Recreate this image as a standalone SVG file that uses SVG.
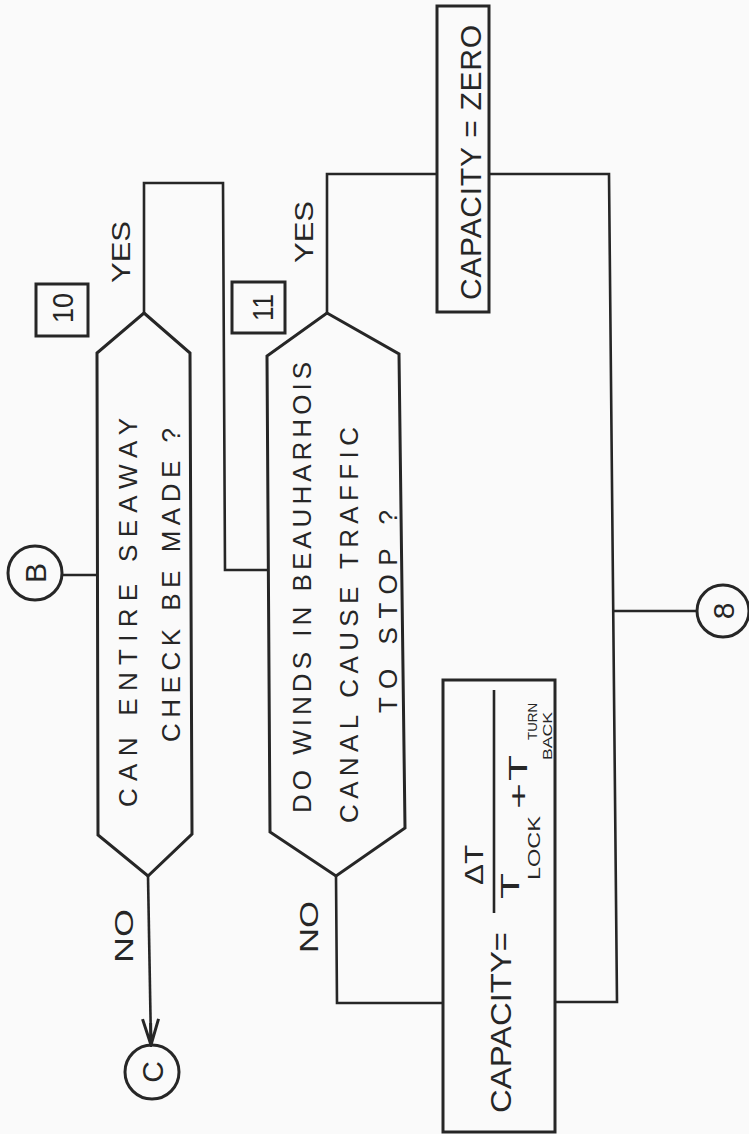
<svg xmlns="http://www.w3.org/2000/svg" width="749" height="1134" viewBox="0 0 749 1134">
<style>
.bg{fill:#fafafa}
.shape{fill:none;stroke:#262626;stroke-width:3;stroke-linejoin:miter}
.line{fill:none;stroke:#262626;stroke-width:2.6}
.t{font-family:"Liberation Sans",Arial,sans-serif;fill:#262626;font-size:26px}
.big{font-size:30px}
.sm{font-size:16px}
.xs{font-size:12px}
</style>
<defs>
<marker id="arr" viewBox="0 0 30 20" refX="28" refY="10" markerWidth="30" markerHeight="20" markerUnits="userSpaceOnUse" orient="auto">
<path d="M2,2 L28,10 L2,18 M28,10 L6,10" fill="none" stroke="#262626" stroke-width="3"/>
</marker>
</defs>
<rect class="bg" x="0" y="0" width="749" height="1134"/>

<g id="connectors">
<line class="line" x1="62" y1="575" x2="97" y2="575"/>
<polyline class="line" points="144,313 144,183 223,183 225,570 267,570"/>
<polyline class="line" points="327,313 327,174 437,174"/>
<polyline class="line" points="489,174 609,174 617,1002 555,1002"/>
<line class="line" x1="613" y1="611" x2="697" y2="611"/>
<polyline class="line" points="336,876 337,1003 443,1003"/>
<line class="line" x1="148" y1="876" x2="151" y2="1045" marker-end="url(#arr)"/>
<text class="t" transform="translate(133,963) rotate(-90)" textLength="54" lengthAdjust="spacingAndGlyphs">NO</text>
<text class="t" transform="translate(318,953) rotate(-90)" textLength="52" lengthAdjust="spacingAndGlyphs">NO</text>
<text class="t" transform="translate(130,283) rotate(-90)" textLength="62" lengthAdjust="spacingAndGlyphs">YES</text>
<text class="t" transform="translate(313,263) rotate(-90)" textLength="62" lengthAdjust="spacingAndGlyphs">YES</text>
</g>

<g id="node-b">
<circle class="shape" cx="35" cy="573" r="27"/>
<text class="t big" transform="translate(46,573) rotate(-90)" text-anchor="middle">B</text>
</g>

<g id="node-10">
<rect class="shape" x="36" y="284" width="52" height="52"/>
<text class="t big" transform="translate(73,323) rotate(-90)" textLength="30" lengthAdjust="spacingAndGlyphs">10</text>
<polygon class="shape" points="144,313 190,353 192,834 148,876 98,835 97,353"/>
<text class="t" transform="translate(137,807) rotate(-90)" textLength="389" lengthAdjust="spacing">CAN ENTIRE SEAWAY</text>
<text class="t" transform="translate(180,742) rotate(-90)" textLength="314" lengthAdjust="spacing">CHECK BE MADE ?</text>
</g>

<g id="node-11">
<rect class="shape" x="232" y="282" width="53" height="51"/>
<text class="t big" transform="translate(273,321) rotate(-90)" textLength="27" lengthAdjust="spacingAndGlyphs">11</text>
<polygon class="shape" points="327,313 399,354 405,828 336,876 270,832 267,356"/>
<text class="t" transform="translate(311,813) rotate(-90)" textLength="451" lengthAdjust="spacing">DO WINDS IN BEAUHARHOIS</text>
<text class="t" transform="translate(358,823) rotate(-90)" textLength="396" lengthAdjust="spacing">CANAL CAUSE TRAFFIC</text>
<text class="t" transform="translate(397,713) rotate(-90)" textLength="203" lengthAdjust="spacing">TO STOP ?</text>
</g>

<g id="node-zero">
<rect class="shape" x="437" y="6" width="52" height="306"/>
<text class="t big" transform="translate(481,300) rotate(-90)" textLength="275" lengthAdjust="spacing">CAPACITY = ZERO</text>
</g>

<g id="node-formula">
<rect class="shape" x="443" y="680" width="112" height="452"/>
<text class="t big" transform="translate(511,1113) rotate(-90)" textLength="181" lengthAdjust="spacingAndGlyphs">CAPACITY=</text>
<line class="line" x1="494" y1="690" x2="494" y2="913"/>
<text class="t" transform="translate(483,885) rotate(-90)" textLength="40" lengthAdjust="spacingAndGlyphs">ΔT</text>
<text class="t" transform="translate(519,899) rotate(-90)" textLength="26" lengthAdjust="spacingAndGlyphs">T</text>
<text class="t sm" transform="translate(540,880) rotate(-90)" textLength="64" lengthAdjust="spacingAndGlyphs">LOCK</text>
<text class="t" transform="translate(527,809) rotate(-90)" textLength="26" lengthAdjust="spacingAndGlyphs">+</text>
<text class="t" transform="translate(527,781) rotate(-90)" textLength="26" lengthAdjust="spacingAndGlyphs">T</text>
<text class="t xs" transform="translate(537,740) rotate(-90)" textLength="37" lengthAdjust="spacingAndGlyphs">TURN</text>
<text class="t xs" transform="translate(552,760) rotate(-90)" textLength="48" lengthAdjust="spacingAndGlyphs">BACK</text>
</g>

<g id="node-c">
<circle class="shape" cx="152" cy="1072" r="27"/>
<text class="t big" transform="translate(163,1072) rotate(-90)" text-anchor="middle">C</text>
</g>

<g id="node-8">
<circle class="shape" cx="723" cy="611" r="26"/>
<text class="t big" transform="translate(734,611) rotate(-90)" text-anchor="middle">8</text>
</g>
</svg>
